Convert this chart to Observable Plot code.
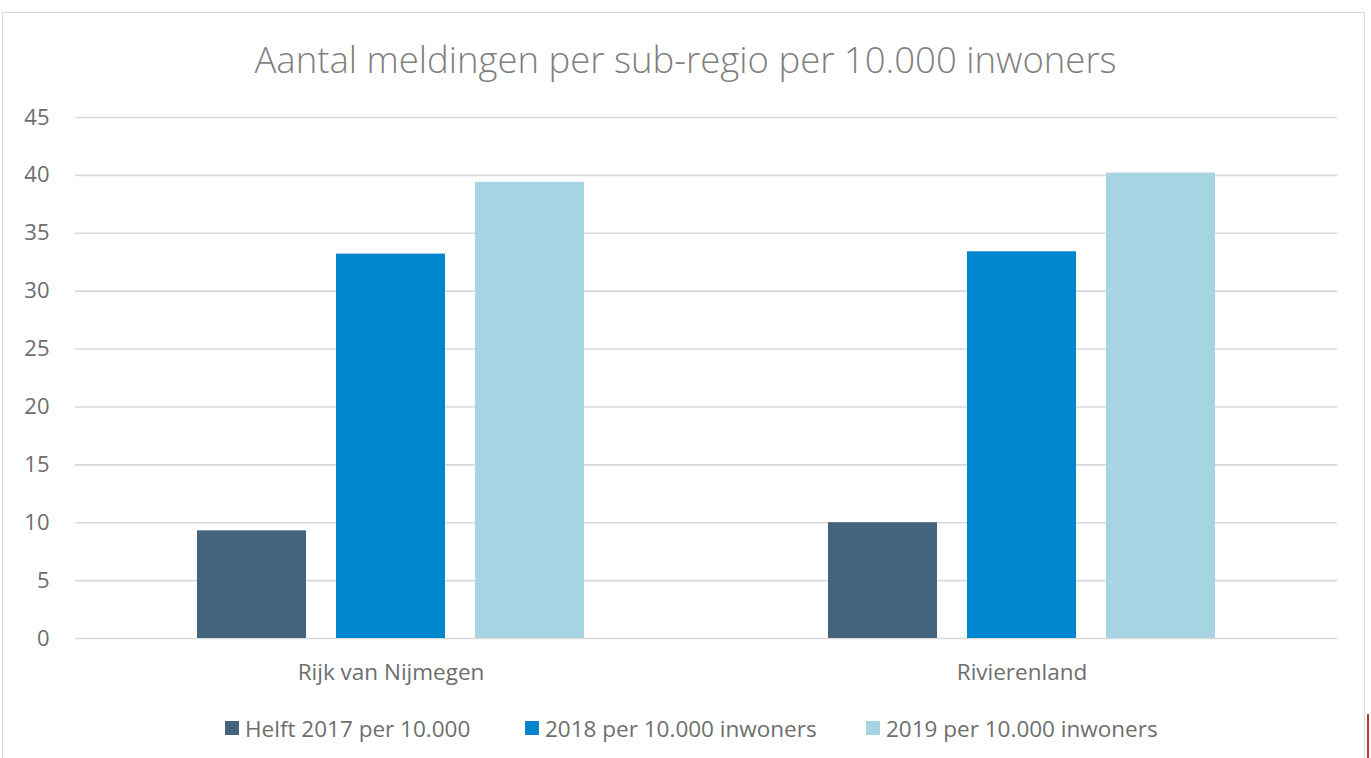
<!DOCTYPE html>
<html>
<head>
<meta charset="utf-8">
<script src="https://cdn.jsdelivr.net/npm/d3@7"></script>
<script src="https://cdn.jsdelivr.net/npm/@observablehq/plot@0.6"></script>
<style>
  html, body { margin: 0; padding: 0; background: #ffffff; }
  #wrap { position: relative; width: 1371px; height: 758px; overflow: hidden; font-family: "Open Sans", sans-serif; }
  #frame { position: absolute; left: 2px; top: 12px; width: 1363px; height: 760px; border: 1px solid #d9d9d9; box-sizing: border-box; }
  #title { position: absolute; left: 0; width: 1371px; top: 34px; text-align: center; font-size: 36.5px; font-weight: 300; color: #7f7f7f; white-space: nowrap; }
  #chart { position: absolute; left: 0; top: 0; }
  #legend { position: absolute; top: 713px; left: 0; width: 1371px; height: 30px; }
  .item { position: absolute; top: 0; display: flex; align-items: center; font-size: 22.5px; color: #6e6e6e; white-space: nowrap; height: 30px; }
  .sw { width: 14px; height: 14px; margin-right: 6px; }
  #redmark { position: absolute; left: 1367px; top: 714px; width: 2px; height: 44px; background: #c0392b; }
</style>
</head>
<body>
<div id="wrap">
  <div id="frame"></div>
  <div id="title">Aantal meldingen per sub-regio per 10.000 inwoners</div>
  <div id="chart"></div>
  <div id="legend"></div>
  <div id="redmark"></div>
</div>
<script>
const regions = ["Rijk van Nijmegen", "Rivierenland"];
const series = ["Helft 2017 per 10.000", "2018 per 10.000 inwoners", "2019 per 10.000 inwoners"];
const helft2017 = [9.3, 10.0];
const per2018 = [33.2, 33.4];
const per2019 = [39.4, 40.2];
const yTicks = [0, 5, 10, 15, 20, 25, 30, 35, 40, 45];
const colors = ["#44637d", "#0086cf", "#a6d4e3"];

const seriesValues = [helft2017, per2018, per2019];
const data = [];
regions.forEach((r, i) => {
  series.forEach((s, j) => data.push({ region: r, series: s, value: seriesValues[j][i] }));
});

const chart = Plot.plot({
  width: 1371,
  height: 700,
  marginTop: 117,
  marginBottom: 62,
  marginLeft: 75,
  marginRight: 34,
  style: { fontFamily: "Open Sans, sans-serif", fontSize: "22px", color: "#6e6e6e", background: "transparent", overflow: "visible" },
  fx: { domain: regions, padding: 0, label: null },
  x: { domain: series, paddingInner: 0.214, paddingOuter: 0.861, axis: null },
  y: { domain: [0, 45], label: null },
  color: { domain: series, range: colors },
  marks: [
    Plot.gridY(yTicks, { stroke: "#d9d9d9", strokeOpacity: 1, strokeWidth: 1.6 }),
    Plot.axisY(yTicks, { tickSize: 0, tickPadding: 26, fontSize: 22, fill: "#6e6e6e", label: null }),
    Plot.axisFx({ anchor: "bottom", tickSize: 0, tickPadding: 26, fontSize: 22.5, fill: "#6e6e6e", label: null }),
    Plot.barY(data, { fx: "region", x: "series", y: "value", fill: "series" })
  ]
});
document.getElementById("chart").appendChild(chart);

const legend = document.getElementById("legend");
const lefts = [225, 525, 866];
series.forEach((s, i) => {
  const it = document.createElement("div");
  it.className = "item";
  it.style.left = lefts[i] + "px";
  const sw = document.createElement("div");
  sw.className = "sw";
  sw.style.background = colors[i];
  const tx = document.createElement("span");
  tx.textContent = s;
  it.appendChild(sw);
  it.appendChild(tx);
  legend.appendChild(it);
});
</script>
</body>
</html>
